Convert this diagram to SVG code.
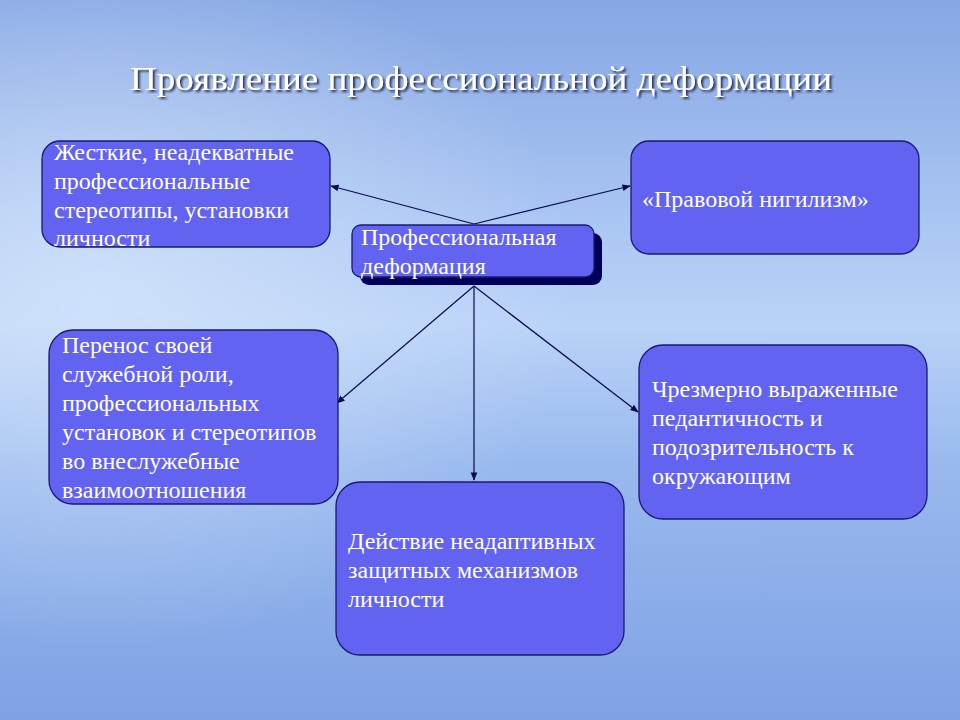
<svg xmlns="http://www.w3.org/2000/svg" width="960" height="720" viewBox="0 0 960 720">
<defs>
<linearGradient id="bg" x1="0" y1="0" x2="0" y2="1">
<stop offset="0" stop-color="#86a6e4"/>
<stop offset="0.3" stop-color="#a9c5f2"/>
<stop offset="0.45" stop-color="#b9d3f7"/>
<stop offset="0.65" stop-color="#98b8ee"/>
<stop offset="1" stop-color="#7fa2e4"/>
</linearGradient>
<radialGradient id="glow" cx="0.1" cy="0.4" r="0.5">
<stop offset="0" stop-color="#d8e8fb" stop-opacity="0.7"/>
<stop offset="1" stop-color="#d8e8fb" stop-opacity="0"/>
</radialGradient>
<marker id="arr" viewBox="0 0 10 10" refX="9" refY="5" markerWidth="7" markerHeight="7" orient="auto">
<path d="M0,1 L10,5 L0,9 z" fill="#0a0a50"/>
</marker>
<filter id="ts" x="-5%" y="-20%" width="110%" height="150%">
<feDropShadow dx="2" dy="2" stdDeviation="0.8" flood-color="#1a1a40" flood-opacity="0.9"/>
</filter>
</defs>
<style>
.box{fill:#6363f2;stroke:#1a1a70;stroke-width:1.3}
.t{font-family:"Liberation Serif","Times New Roman",serif;font-size:24px;fill:#ffffff}
.con line{stroke:#0a0a50;stroke-width:1.2;marker-end:url(#arr)}
</style>
<rect width="960" height="720" fill="url(#bg)"/>
<rect width="960" height="720" fill="url(#glow)"/>
<text x="130" y="90" font-family="'Liberation Serif','Times New Roman',serif" font-size="34" fill="#ffffff" filter="url(#ts)" textLength="702" lengthAdjust="spacingAndGlyphs">Проявление профессиональной деформации</text>
<g class="con">
<line x1="474" y1="224" x2="331" y2="186"/>
<line x1="474" y1="224" x2="630" y2="186"/>
<line x1="474" y1="286" x2="337" y2="403"/>
<line x1="474" y1="286" x2="474" y2="480"/>
<line x1="474" y1="286" x2="638" y2="412"/>
</g>
<g id="center">
<rect x="360" y="233" width="242" height="52" rx="9" fill="#00005a"/>
<rect class="box" x="352" y="225" width="242" height="52" rx="9"/>
<text class="t" x="361" y="245">Профессиональная</text>
<text class="t" x="361" y="274">деформация</text>
</g>
<g id="n1">
<rect class="box" x="42" y="141" width="288" height="106" rx="18"/>
<text class="t" x="54" y="160">Жесткие, неадекватные</text>
<text class="t" x="54" y="189">профессиональные</text>
<text class="t" x="54" y="218">стереотипы, установки</text>
<text class="t" x="54" y="246">личности</text>
</g>
<g id="n2">
<rect class="box" x="631" y="141" width="288" height="113" rx="18"/>
<text class="t" x="642" y="207">«Правовой нигилизм»</text>
</g>
<g id="n3">
<rect class="box" x="49" y="330" width="289" height="174" rx="24"/>
<text class="t" x="62" y="353">Перенос своей</text>
<text class="t" x="62" y="382">служебной роли,</text>
<text class="t" x="62" y="411">профессиональных</text>
<text class="t" x="62" y="440">установок и стереотипов</text>
<text class="t" x="62" y="469">во внеслужебные</text>
<text class="t" x="62" y="498">взаимоотношения</text>
</g>
<g id="n4">
<rect class="box" x="639" y="345" width="288" height="174" rx="24"/>
<text class="t" x="652" y="397">Чрезмерно выраженные</text>
<text class="t" x="652" y="426">педантичность и</text>
<text class="t" x="652" y="455">подозрительность к</text>
<text class="t" x="652" y="484">окружающим</text>
</g>
<g id="n5">
<rect class="box" x="336" y="482" width="288" height="173" rx="24"/>
<text class="t" x="348" y="549">Действие неадаптивных</text>
<text class="t" x="348" y="578">защитных механизмов</text>
<text class="t" x="348" y="607">личности</text>
</g>
</svg>
